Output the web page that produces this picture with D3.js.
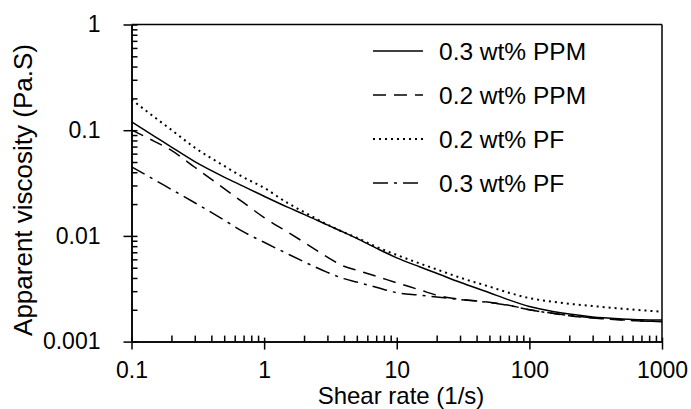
<!DOCTYPE html>
<html>
<head>
<meta charset="utf-8">
<script src="https://cdn.jsdelivr.net/npm/d3@7"></script>
<style>
  html, body { margin: 0; padding: 0; background: #fff; }
  svg { display: block; font-family: "Liberation Sans", Arial, sans-serif; }
</style>
</head>
<body>
<svg id="chart" width="691" height="409"></svg>
<script>
// ---------- data ----------
const shearRate = [0.1, 0.15, 0.2, 0.3, 0.5, 0.7, 1, 1.5, 2, 3, 4, 5, 7, 10, 15, 20, 30, 50, 70, 100, 150, 200, 300, 500, 700, 1000];
const ppm03 = [0.120, 0.0871, 0.0693, 0.0504, 0.036, 0.0294, 0.0237, 0.0187, 0.016, 0.0127, 0.0108, 0.00946, 0.00766, 0.0062, 0.00508, 0.00443, 0.00364, 0.0029, 0.00248, 0.00215, 0.00193, 0.00182, 0.00171, 0.00164, 0.00161, 0.0016];
const ppm02 = [0.1005, 0.0781, 0.0644, 0.0446, 0.028, 0.0206, 0.0149, 0.0109, 0.0087, 0.0063, 0.00516, 0.00473, 0.00415, 0.0036, 0.00308, 0.00275, 0.00252, 0.00236, 0.00221, 0.002, 0.00185, 0.00176, 0.00167, 0.0016, 0.00157, 0.00154];
const pf02 = [0.195, 0.132, 0.1007, 0.0684, 0.0459, 0.0358, 0.0285, 0.0205, 0.0168, 0.0128, 0.0108, 0.0096, 0.0079, 0.0066, 0.00547, 0.00482, 0.00403, 0.00331, 0.0029, 0.00258, 0.00238, 0.00228, 0.00217, 0.00205, 0.00198, 0.00192];
const pf03 = [0.045, 0.0338, 0.0275, 0.0206, 0.0141, 0.0109, 0.0087, 0.00677, 0.00569, 0.00452, 0.00394, 0.00366, 0.00327, 0.0029, 0.00275, 0.00264, 0.0025, 0.00234, 0.0022, 0.002, 0.00185, 0.00177, 0.00168, 0.00161, 0.00157, 0.00155];
const seriesNames = ["0.3 wt% PPM", "0.2 wt% PPM", "0.2 wt% PF", "0.3 wt% PF"];
const xTickValues = [0.1, 1, 10, 100, 1000];
const xTickLabels = ["0.1", "1", "10", "100", "1000"];
const yTickValues = [0.001, 0.01, 0.1, 1];
const yTickLabels = ["0.001", "0.01", "0.1", "1"];
const xTitle = "Shear rate (1/s)";
const yTitle = "Apparent viscosity (Pa.S)";

(function () {
// ---------- layout ----------
const svg = d3.select("#chart");
const pL = 131.5, pR = 662, pT = 24.5, pB = 341.6;
const x = d3.scaleLog().domain([0.1, 1000]).range([pL, pR]);
const y = d3.scaleLog().domain([0.001, 1]).range([pB, pT]);

const styles = [
  { dash: null },
  { dash: "13,8" },
  { dash: "2,4" },
  { dash: "15,6,3,6" }
];
const seriesValues = [ppm03, ppm02, pf02, pf03];

// frame
svg.append("line").attr("x1", pL).attr("x2", pR).attr("y1", pT).attr("y2", pT)
  .attr("stroke", "#000").attr("stroke-width", 1.5);
svg.append("line").attr("x1", pR).attr("x2", pR).attr("y1", pT).attr("y2", pB)
  .attr("stroke", "#000").attr("stroke-width", 1.5);

// x axis
const xMinor = x.ticks().filter(v => !xTickValues.some(t => Math.abs(t - v) / t < 1e-9));
const xAxisMinor = d3.axisBottom(x).tickValues(xMinor).tickSize(-6).tickFormat("").tickSizeOuter(0);
const xAxisMajor = d3.axisBottom(x).tickValues(xTickValues).tickSize(8)
  .tickFormat((d, i) => xTickLabels[i]).tickSizeOuter(0).tickPadding(12);
const gxMin = svg.append("g").attr("transform", `translate(0,${pB})`).call(xAxisMinor);
const gx = svg.append("g").attr("transform", `translate(0,${pB})`).call(xAxisMajor);
[gxMin, gx].forEach(s => {
  s.select(".domain").attr("stroke", "#000").attr("stroke-width", 1.5);
  s.selectAll(".tick line").attr("stroke", "#000").attr("stroke-width", 1.5);
});
gx.selectAll(".tick").append("line").attr("y1", 0).attr("y2", -4).attr("stroke", "#000").attr("stroke-width", 1.5);
gx.selectAll(".tick text").attr("font-size", 23).attr("fill", "#000")
  .attr("font-family", "'Liberation Sans', Arial, sans-serif");

// y axis
const yMinor = y.ticks().filter(v => !yTickValues.some(t => Math.abs(t - v) / t < 1e-9));
const yAxisMinor = d3.axisLeft(y).tickValues(yMinor).tickSize(-6).tickFormat("").tickSizeOuter(0);
const yAxisMajor = d3.axisLeft(y).tickValues(yTickValues).tickSize(8)
  .tickFormat((d, i) => yTickLabels[i]).tickSizeOuter(0).tickPadding(23);
const gyMin = svg.append("g").attr("transform", `translate(${pL},0)`).call(yAxisMinor);
const gy = svg.append("g").attr("transform", `translate(${pL},0)`).call(yAxisMajor);
[gyMin, gy].forEach(s => {
  s.select(".domain").attr("stroke", "#000").attr("stroke-width", 1.5);
  s.selectAll(".tick line").attr("stroke", "#000").attr("stroke-width", 1.5);
});
gy.selectAll(".tick").append("line").attr("x1", 0).attr("x2", 6).attr("stroke", "#000").attr("stroke-width", 1.5);
gy.selectAll(".tick text").attr("font-size", 23).attr("fill", "#000")
  .attr("font-family", "'Liberation Sans', Arial, sans-serif");

// titles
svg.append("text").attr("x", 401).attr("y", 404).attr("text-anchor", "middle")
  .attr("font-size", 24).attr("fill", "#000").text(xTitle);
svg.append("text").attr("transform", `translate(32,190) rotate(-90)`).attr("text-anchor", "middle")
  .attr("font-size", 26).attr("fill", "#000").text(yTitle);

// lines
const line = d3.line().x(d => x(d[0])).y(d => y(d[1])).curve(d3.curveMonotoneX);
seriesValues.forEach((vals, i) => {
  const pts = shearRate.map((s, j) => [s, vals[j]]);
  svg.append("path").datum(pts).attr("d", line).attr("fill", "none")
    .attr("stroke", "#000").attr("stroke-width", i === 2 ? 2 : 1.5)
    .attr("stroke-dasharray", styles[i].dash);
});

// legend
const legY = [51, 95, 139, 183];
seriesNames.forEach((name, i) => {
  svg.append("line").attr("x1", 373).attr("x2", 423).attr("y1", legY[i]).attr("y2", legY[i])
    .attr("stroke", "#000").attr("stroke-width", i === 2 ? 2 : 1.5)
    .attr("stroke-dasharray", styles[i].dash);
  svg.append("text").attr("x", 439).attr("y", legY[i]).attr("dy", "0.35em")
    .attr("font-size", 24.5).attr("fill", "#000").text(name);
});
})();
</script>
</body>
</html>
